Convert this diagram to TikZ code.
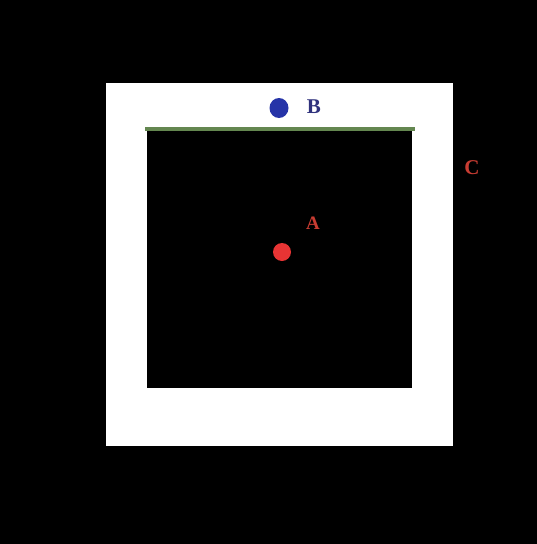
\documentclass[tikz,border=0pt]{standalone}
\usepackage{fontspec}
\setmainfont{Liberation Serif}
\definecolor{dotred}{RGB}{232,52,52}
\definecolor{labred}{RGB}{200,60,50}
\definecolor{dotblue}{RGB}{38,52,168}
\definecolor{labblue}{RGB}{48,50,125}
\definecolor{linegreen}{RGB}{100,135,80}
\tikzset{
  lab/.style={font=\bfseries\fontsize{21}{21}\selectfont, inner sep=0pt},
}
\begin{document}
\begin{tikzpicture}[x=1pt,y=-1pt]
\fill[black] (0,0) rectangle (537,544);
\useasboundingbox (0,0) rectangle (537,544);
\fill[white] (106,83) rectangle (453,446);
\fill[black] (147,129) rectangle (412,388);
\draw[linegreen, line width=4pt] (145,129) -- (415,129);
\fill[dotblue] (279,108) ellipse [x radius=9.5, y radius=10];
\node[lab, text=labblue] (B) at (314,107) {B};
\fill[dotred] (282,252) circle [radius=9];
\node[lab, text=labred, font=\bfseries\fontsize{19}{19}\selectfont] (A) at (313,223) {A};
\node[lab, text=labred] (C) at (472,168) {C};
\end{tikzpicture}
\end{document}
